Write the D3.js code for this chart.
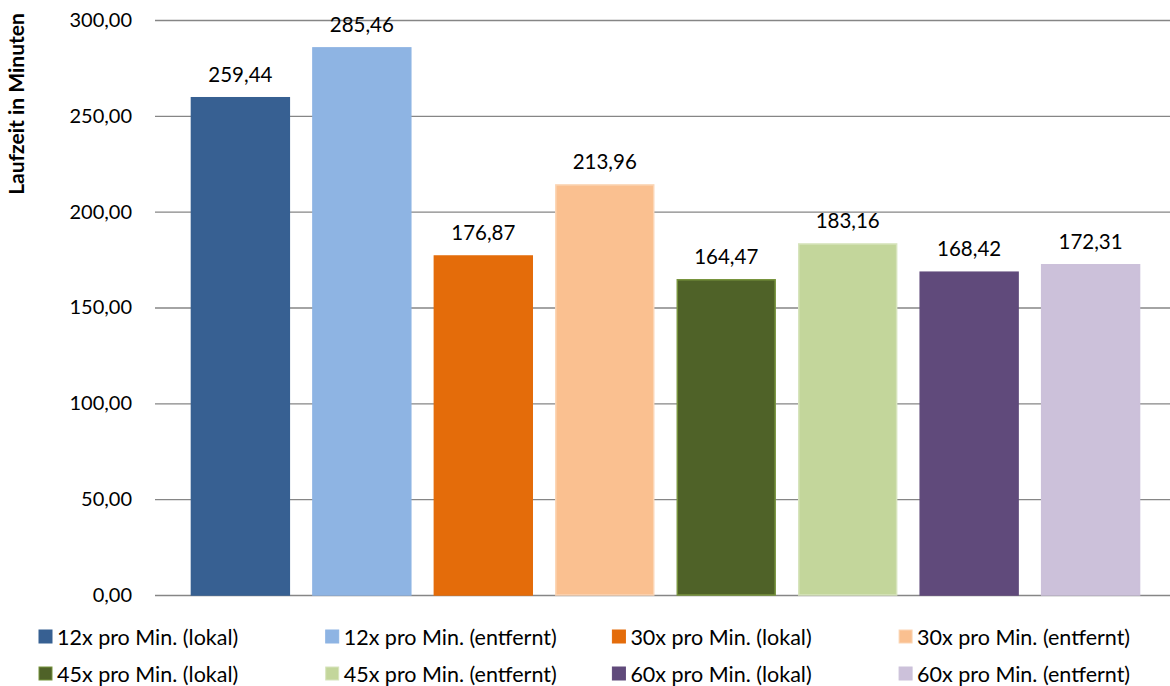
<!DOCTYPE html>
<html>
<head>
<meta charset="utf-8">
<script src="https://cdn.jsdelivr.net/npm/d3@7"></script>
<style>
  html, body { margin: 0; padding: 0; background: #fff; }
  svg { display: block; font-family: Lato, "Open Sans", sans-serif; }
</style>
</head>
<body>
<svg id="chart" width="1170" height="686"></svg>
<script>
// Laufzeit je Konfiguration (Minuten)
const seriesNames = [
  "12x pro Min. (lokal)", "12x pro Min. (entfernt)",
  "30x pro Min. (lokal)", "30x pro Min. (entfernt)",
  "45x pro Min. (lokal)", "45x pro Min. (entfernt)",
  "60x pro Min. (lokal)", "60x pro Min. (entfernt)"
];
const runtimes = [259.44, 285.46, 176.87, 213.96, 164.47, 183.16, 168.42, 172.31];
const fillColors = ["#376092", "#8EB4E3", "#E46C0A", "#FAC090", "#4F6228", "#C3D69B", "#604A7B", "#CCC1DA"];
const edgeColors = ["#376092", "#8EB4E3", "#E46C0A", "#FBD5B5", "#77933C", "#D7E4BD", "#604A7B", "#CCC1DA"];
const yTicks = [0, 50, 100, 150, 200, 250, 300];
const yTitle = "Laufzeit in Minuten";

const svg = d3.select("#chart");
const plot = { left: 155, right: 1176, top: 20, bottom: 595 };

const y = d3.scaleLinear().domain([0, 300]).range([plot.bottom, plot.top]);
const x = d3.scaleBand().domain(seriesNames).range([plot.left, plot.right])
  .paddingInner(0.194).paddingOuter(0.3);

const fmt = v => d3.format(".2f")(v).replace(".", ",");

// Gitterlinien und Achsenbeschriftung
const yAxis = d3.axisLeft(y).tickValues(yTicks).tickFormat(fmt)
  .tickSize(-(plot.right - plot.left)).tickPadding(23);
const gy = svg.append("g").attr("transform", `translate(${plot.left},0)`).call(yAxis);
gy.select(".domain").remove();
gy.selectAll(".tick line").attr("stroke", "#868686").attr("stroke-width", 1.3);
gy.selectAll(".tick text").attr("fill", "#000").style("font-size", "20px")
  .style("font-family", "Lato, sans-serif");

svg.append("text")
  .attr("transform", `translate(24,104) rotate(-90)`)
  .attr("text-anchor", "middle")
  .style("font-size", "21px").style("font-weight", "bold")
  .text(yTitle);

// Balken
svg.append("g").selectAll("rect").data(seriesNames).join("rect")
  .attr("x", d => x(d))
  .attr("y", (d, i) => y(runtimes[i]))
  .attr("width", x.bandwidth())
  .attr("height", (d, i) => y(0) - y(runtimes[i]))
  .attr("fill", (d, i) => fillColors[i])
  .attr("stroke", (d, i) => edgeColors[i])
  .attr("stroke-width", 1.5);

// Wertbeschriftungen
svg.append("g").selectAll("text").data(seriesNames).join("text")
  .attr("x", d => x(d) + x.bandwidth() / 2)
  .attr("y", (d, i) => y(runtimes[i]) - 16)
  .attr("text-anchor", "middle")
  .style("font-size", "20.5px")
  .text((d, i) => fmt(runtimes[i]));

// Legende
const legendCols = 4, colStep = 286.7;
const lg = svg.append("g").selectAll("g").data(seriesNames).join("g")
  .attr("transform", (d, i) => {
    const col = i % legendCols, row = Math.floor(i / legendCols);
    return `translate(${39 + col * colStep},${637 + row * 37})`;
  });
lg.append("rect").attr("x", 0).attr("y", -7).attr("width", 13).attr("height", 13)
  .attr("fill", (d, i) => fillColors[i])
  .attr("stroke", (d, i) => edgeColors[i]).attr("stroke-width", 1);
lg.append("text").attr("x", 18).attr("y", 0).attr("dy", "0.35em")
  .style("font-size", "21.5px").text(d => d);
</script>
</body>
</html>
